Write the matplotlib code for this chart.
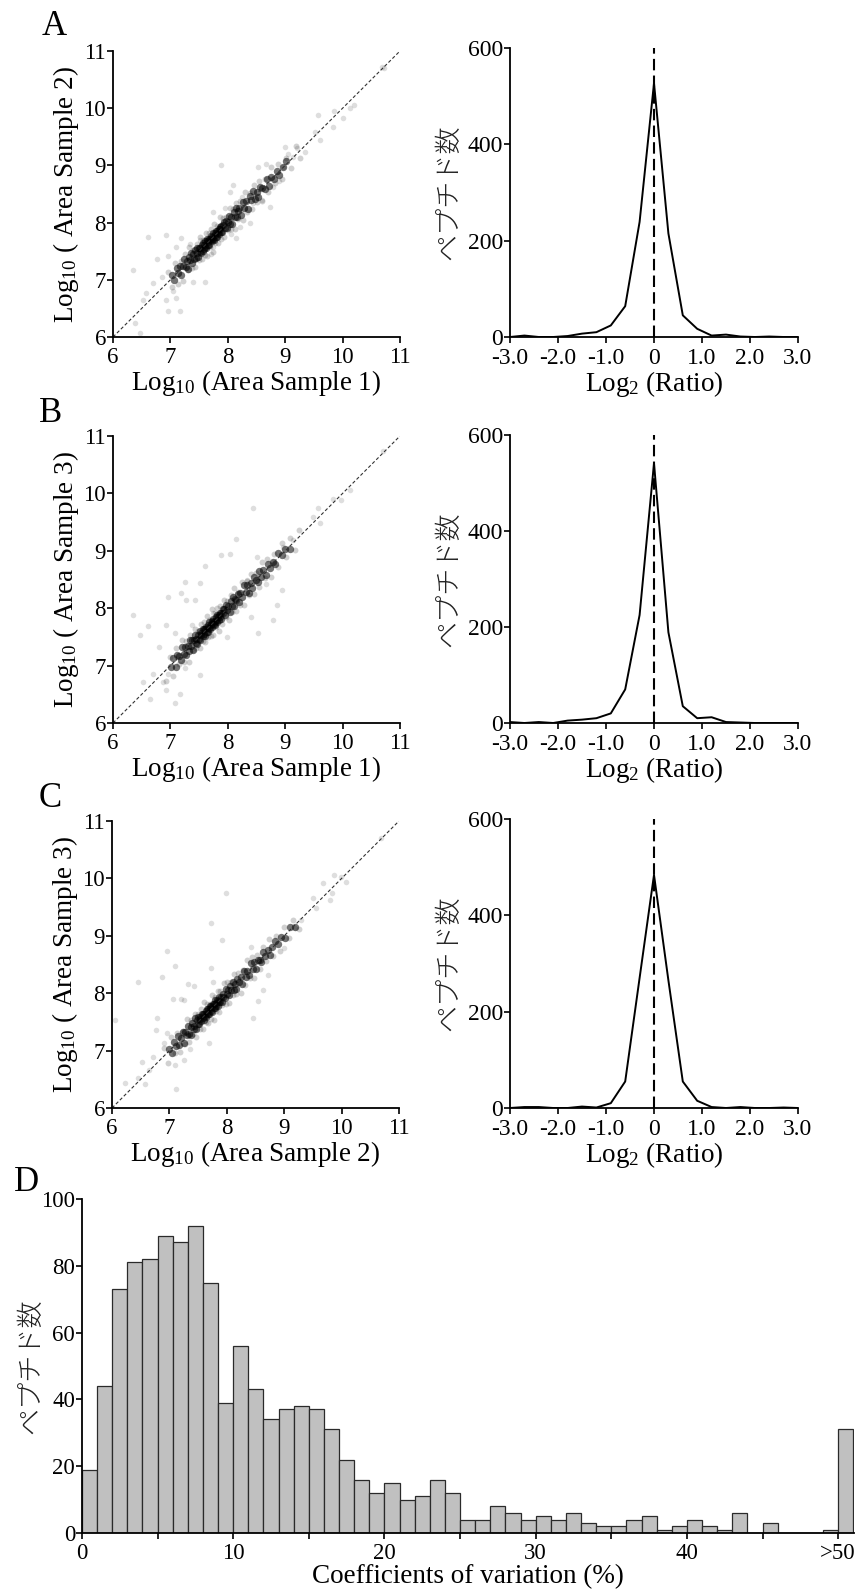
import matplotlib
matplotlib.use("Agg")
import matplotlib.pyplot as plt
import numpy as np

plt.rcParams['font.family'] = ['Liberation Serif', 'Noto Sans CJK JP']
plt.rcParams['mathtext.fontset'] = 'custom'
plt.rcParams['mathtext.rm'] = 'Liberation Serif'
plt.rcParams['mathtext.it'] = 'Liberation Serif:italic'
plt.rcParams['axes.linewidth'] = 1.3

# ---- scatter data: log10 peak areas ----
# dense centre of each cloud
a_core_x = [7.03, 7.07, 7.11, 7.14, 7.16, 7.19, 7.22, 7.24, 7.27, 7.29, 7.31, 7.33, 7.35, 7.36, 7.38,
            7.40, 7.41, 7.43, 7.44, 7.46, 7.47, 7.48, 7.50, 7.51, 7.52, 7.53, 7.55, 7.56, 7.57, 7.58,
            7.59, 7.60, 7.61, 7.62, 7.63, 7.64, 7.65, 7.66, 7.67, 7.68, 7.69, 7.70, 7.71, 7.72, 7.73,
            7.74, 7.75, 7.76, 7.77, 7.78, 7.79, 7.80, 7.81, 7.82, 7.83, 7.84, 7.85, 7.86, 7.87, 7.88,
            7.89, 7.90, 7.92, 7.93, 7.95, 7.96, 7.98, 8.00, 8.02, 8.04, 8.06, 8.08, 8.10, 8.12, 8.14,
            8.16, 8.18, 8.20, 8.23, 8.26, 8.29, 8.32, 8.35, 8.38, 8.41, 8.44, 8.47, 8.50, 8.53, 8.56,
            8.60, 8.64, 8.68, 8.72, 8.76, 8.80, 8.85, 8.90, 8.96, 9.02]
a_core_y = [7.08, 7.00, 7.21, 7.12, 7.24, 7.09, 7.25, 7.36, 7.22, 7.33, 7.19, 7.40, 7.34, 7.46, 7.30,
            7.45, 7.37, 7.52, 7.38, 7.47, 7.55, 7.39, 7.56, 7.49, 7.55, 7.46, 7.60, 7.51, 7.65, 7.54,
            7.61, 7.57, 7.67, 7.56, 7.67, 7.71, 7.61, 7.66, 7.72, 7.61, 7.72, 7.69, 7.77, 7.67, 7.75,
            7.71, 7.82, 7.70, 7.81, 7.79, 7.75, 7.86, 7.74, 7.85, 7.81, 7.89, 7.80, 7.93, 7.88, 7.84,
            7.94, 7.83, 7.95, 8.01, 7.91, 8.02, 7.90, 8.01, 8.11, 7.98, 8.10, 7.97, 8.18, 8.09, 8.26,
            8.09, 8.20, 8.26, 8.14, 8.36, 8.25, 8.37, 8.23, 8.46, 8.39, 8.55, 8.41, 8.53, 8.44, 8.63,
            8.60, 8.59, 8.77, 8.64, 8.80, 8.77, 8.91, 8.83, 8.98, 9.07]
# looser band around the centre
a_halo_x = [6.95, 7.02, 7.08, 7.13, 7.18, 7.22, 7.26, 7.30, 7.33, 7.37, 7.40, 7.43, 7.46, 7.49, 7.52,
            7.55, 7.57, 7.60, 7.62, 7.64, 7.67, 7.69, 7.71, 7.74, 7.76, 7.78, 7.81, 7.83, 7.86, 7.88,
            7.91, 7.94, 7.97, 8.00, 8.03, 8.06, 8.09, 8.12, 8.15, 8.18, 8.22, 8.26, 8.30, 8.34, 8.38,
            8.42, 8.46, 8.50, 8.55, 8.60, 8.65, 8.70, 8.76, 8.82, 8.88, 8.95, 9.02, 9.10, 9.18, 9.25]
a_halo_y = [7.13, 6.87, 7.30, 6.93, 7.32, 6.98, 7.45, 7.17, 7.58, 7.20, 7.52, 7.22, 7.62, 7.35, 7.75,
            7.36, 7.70, 7.44, 7.82, 7.42, 7.82, 7.57, 7.89, 7.49, 7.97, 7.64, 7.94, 7.65, 8.10, 7.72,
            8.08, 7.74, 8.09, 7.87, 8.25, 7.88, 8.24, 7.89, 8.34, 8.06, 8.38, 8.05, 8.54, 8.19, 8.51,
            8.23, 8.66, 8.36, 8.72, 8.38, 8.77, 8.53, 8.97, 8.69, 9.03, 8.77, 9.13, 8.96, 9.34, 9.13]
# scattered single peptides
a_out_x = [10.68, 10.72, 10.13, 10.00, 9.84, 9.58, 9.60, 9.52, 9.34, 8.99, 7.89, 8.53, 8.67, 8.90, 8.79,
           8.03, 8.38, 7.74, 6.61, 6.93, 6.35, 6.76, 6.96, 7.19, 7.10, 7.60, 6.96, 7.16, 6.93, 7.10,
           6.70, 6.52, 6.38, 6.47, 8.15, 8.30, 7.40, 7.28, 8.09, 8.73, 8.44, 7.74, 7.51, 8.21, 8.50,
           9.14, 8.97, 6.58, 9.20, 9.85, 10.20, 9.05, 8.60, 8.25, 7.95, 7.35, 7.70, 8.05, 6.85, 7.05]
a_out_y = [10.72, 10.70, 10.00, 9.82, 9.67, 9.88, 9.44, 9.59, 9.24, 9.33, 9.00, 8.98, 9.03, 8.72, 8.63,
           8.54, 7.99, 8.19, 7.74, 7.78, 7.17, 7.36, 7.41, 7.73, 7.58, 6.97, 6.45, 6.45, 6.65, 6.68,
           6.94, 6.65, 6.24, 6.07, 7.73, 8.25, 6.97, 7.23, 8.66, 8.28, 8.34, 7.58, 7.70, 7.93, 8.45,
           9.15, 8.98, 6.77, 9.30, 9.95, 10.05, 9.20, 8.40, 8.45, 8.25, 7.62, 7.45, 7.80, 7.05, 6.80]

b_core_x = [7.01, 7.05, 7.09, 7.12, 7.15, 7.18, 7.21, 7.23, 7.26, 7.28, 7.30, 7.32, 7.34, 7.36, 7.37,
            7.39, 7.41, 7.42, 7.44, 7.45, 7.47, 7.48, 7.49, 7.51, 7.52, 7.53, 7.54, 7.56, 7.57, 7.58,
            7.59, 7.60, 7.61, 7.62, 7.63, 7.64, 7.65, 7.66, 7.67, 7.68, 7.69, 7.70, 7.71, 7.72, 7.73,
            7.74, 7.75, 7.76, 7.77, 7.78, 7.79, 7.80, 7.81, 7.82, 7.83, 7.84, 7.85, 7.86, 7.87, 7.88,
            7.89, 7.91, 7.92, 7.94, 7.95, 7.97, 7.99, 8.01, 8.03, 8.05, 8.07, 8.09, 8.11, 8.13, 8.15,
            8.17, 8.19, 8.22, 8.25, 8.28, 8.31, 8.34, 8.37, 8.40, 8.43, 8.46, 8.49, 8.52, 8.55, 8.58,
            8.62, 8.66, 8.70, 8.74, 8.78, 8.83, 8.88, 8.94, 9.00, 9.08]
b_core_y = [6.97, 7.14, 6.98, 7.18, 7.16, 7.10, 7.33, 7.20, 7.33, 7.18, 7.34, 7.26, 7.44, 7.35, 7.45,
            7.27, 7.44, 7.53, 7.39, 7.47, 7.38, 7.54, 7.47, 7.60, 7.45, 7.57, 7.54, 7.51, 7.64, 7.55,
            7.64, 7.52, 7.63, 7.68, 7.59, 7.65, 7.58, 7.71, 7.65, 7.76, 7.63, 7.73, 7.70, 7.78, 7.68,
            7.76, 7.82, 7.72, 7.77, 7.71, 7.84, 7.77, 7.89, 7.76, 7.84, 7.88, 7.80, 7.92, 7.85, 7.91,
            7.81, 7.98, 7.91, 7.99, 7.89, 8.06, 7.96, 8.03, 7.93, 8.12, 8.03, 8.20, 8.04, 8.16, 8.14,
            8.25, 8.10, 8.27, 8.20, 8.40, 8.29, 8.40, 8.26, 8.44, 8.36, 8.55, 8.49, 8.46, 8.65, 8.55,
            8.67, 8.57, 8.77, 8.70, 8.80, 8.77, 8.96, 8.92, 9.04, 9.03]
b_halo_x = [6.92, 6.99, 7.05, 7.10, 7.15, 7.20, 7.24, 7.28, 7.32, 7.35, 7.39, 7.42, 7.45, 7.48, 7.51,
            7.54, 7.56, 7.59, 7.61, 7.63, 7.66, 7.68, 7.70, 7.73, 7.75, 7.77, 7.80, 7.82, 7.85, 7.87,
            7.90, 7.93, 7.96, 7.99, 8.02, 8.05, 8.08, 8.11, 8.14, 8.17, 8.21, 8.25, 8.29, 8.33, 8.37,
            8.41, 8.45, 8.49, 8.54, 8.59, 8.64, 8.69, 8.75, 8.81, 8.87, 8.94, 9.01, 9.09, 9.17, 9.24]
b_halo_y = [6.73, 7.15, 6.82, 7.30, 7.02, 7.44, 7.07, 7.42, 7.07, 7.53, 7.27, 7.64, 7.30, 7.61, 7.30,
            7.73, 7.42, 7.76, 7.41, 7.86, 7.50, 7.80, 7.52, 7.98, 7.53, 7.92, 7.67, 8.01, 7.61, 8.03,
            7.73, 8.14, 7.84, 8.13, 7.80, 8.23, 7.93, 8.35, 7.95, 8.29, 8.05, 8.45, 8.06, 8.48, 8.23,
            8.59, 8.24, 8.62, 8.37, 8.81, 8.52, 8.85, 8.55, 8.95, 8.72, 9.13, 8.90, 9.22, 9.01, 9.36]
b_out_x = [10.71, 10.13, 9.98, 9.84, 9.58, 9.60, 9.49, 8.44, 8.15, 7.89, 8.03, 7.60, 7.25, 7.51, 7.19,
           6.96, 6.35, 6.61, 6.47, 7.42, 7.28, 6.81, 6.93, 7.08, 7.37, 8.50, 8.79, 8.94, 8.85, 8.41,
           8.53, 7.98, 7.74, 7.51, 7.25, 7.16, 7.08, 6.93, 6.64, 6.52, 6.70, 6.87, 6.96, 8.79, 8.67,
           8.33, 8.21, 9.14, 8.97]
b_out_y = [10.73, 10.06, 9.88, 9.91, 9.74, 9.48, 9.59, 9.74, 9.20, 8.92, 8.94, 8.73, 8.46, 8.44, 8.26,
           8.20, 7.88, 7.69, 7.53, 8.14, 8.14, 7.33, 7.70, 7.56, 7.70, 8.90, 8.81, 8.31, 8.05, 7.85,
           7.56, 7.50, 7.91, 6.83, 6.95, 6.51, 6.34, 6.57, 6.42, 6.72, 6.86, 6.72, 6.86, 7.79, 8.43,
           8.49, 8.26, 9.19, 9.07]

c_core_x = [7.00, 7.04, 7.08, 7.12, 7.15, 7.17, 7.20, 7.23, 7.25, 7.28, 7.30, 7.33, 7.35, 7.37, 7.38,
            7.40, 7.42, 7.43, 7.45, 7.46, 7.48, 7.49, 7.50, 7.52, 7.53, 7.54, 7.55, 7.56, 7.58, 7.59,
            7.60, 7.61, 7.62, 7.63, 7.64, 7.65, 7.66, 7.67, 7.68, 7.69, 7.70, 7.71, 7.72, 7.73, 7.74,
            7.75, 7.76, 7.77, 7.78, 7.79, 7.80, 7.81, 7.82, 7.83, 7.84, 7.85, 7.86, 7.87, 7.88, 7.90,
            7.91, 7.93, 7.94, 7.96, 7.98, 8.00, 8.02, 8.04, 8.06, 8.08, 8.10, 8.12, 8.14, 8.16, 8.18,
            8.21, 8.24, 8.27, 8.30, 8.33, 8.36, 8.39, 8.42, 8.45, 8.48, 8.51, 8.54, 8.57, 8.60, 8.63,
            8.67, 8.71, 8.75, 8.79, 8.84, 8.89, 8.95, 9.02, 9.10, 9.18]
c_core_y = [7.03, 6.95, 7.15, 7.08, 7.26, 7.10, 7.22, 7.32, 7.13, 7.33, 7.28, 7.43, 7.29, 7.41, 7.28,
            7.48, 7.43, 7.38, 7.57, 7.38, 7.54, 7.46, 7.59, 7.46, 7.55, 7.59, 7.51, 7.63, 7.57, 7.63,
            7.53, 7.64, 7.60, 7.69, 7.59, 7.73, 7.66, 7.63, 7.73, 7.63, 7.72, 7.78, 7.69, 7.77, 7.67,
            7.76, 7.82, 7.75, 7.81, 7.74, 7.88, 7.77, 7.83, 7.88, 7.78, 7.87, 7.85, 7.94, 7.85, 7.94,
            7.84, 7.99, 7.94, 7.91, 8.07, 7.98, 8.06, 7.96, 8.12, 8.05, 8.20, 8.06, 8.16, 8.07, 8.25,
            8.20, 8.29, 8.16, 8.38, 8.29, 8.39, 8.32, 8.52, 8.43, 8.54, 8.42, 8.58, 8.57, 8.54, 8.71,
            8.64, 8.76, 8.67, 8.81, 8.91, 8.85, 8.98, 8.96, 9.15, 9.16]
c_halo_x = [6.90, 6.97, 7.03, 7.09, 7.14, 7.19, 7.23, 7.27, 7.31, 7.34, 7.38, 7.41, 7.44, 7.47, 7.50,
            7.53, 7.55, 7.58, 7.60, 7.63, 7.65, 7.67, 7.70, 7.72, 7.74, 7.77, 7.79, 7.82, 7.84, 7.87,
            7.89, 7.92, 7.95, 7.98, 8.01, 8.04, 8.07, 8.10, 8.13, 8.16, 8.20, 8.24, 8.28, 8.32, 8.36,
            8.40, 8.44, 8.48, 8.53, 8.58, 8.63, 8.68, 8.74, 8.80, 8.86, 8.93, 9.00, 9.08, 9.16, 9.26]
c_halo_y = [7.04, 6.79, 7.24, 6.96, 7.31, 6.97, 7.35, 7.11, 7.55, 7.15, 7.53, 7.29, 7.64, 7.24, 7.63,
            7.38, 7.73, 7.37, 7.85, 7.49, 7.81, 7.48, 7.82, 7.55, 7.96, 7.53, 7.93, 7.69, 8.03, 7.67,
            8.04, 7.80, 8.18, 7.82, 8.19, 7.83, 8.20, 7.96, 8.33, 7.98, 8.36, 8.00, 8.40, 8.15, 8.57,
            8.27, 8.63, 8.26, 8.67, 8.43, 8.80, 8.56, 8.94, 8.64, 8.99, 8.74, 9.15, 8.97, 9.28, 9.12]
c_out_x = [10.68, 9.99, 9.87, 10.08, 9.67, 9.84, 9.79, 9.55, 9.50, 7.98, 7.72, 7.92, 6.95, 7.09, 6.87,
           6.45, 7.32, 7.43, 7.73, 7.76, 7.07, 7.21, 7.26, 6.78, 6.76, 6.06, 6.95, 6.90, 8.46, 8.54,
           8.63, 8.71, 8.43, 9.00, 7.69, 7.36, 7.10, 7.26, 7.11, 6.58, 6.23, 6.45, 6.64, 6.52, 6.72,
           9.18, 9.29]
c_out_y = [10.70, 10.03, 10.06, 9.94, 9.92, 9.74, 9.63, 9.48, 9.65, 9.75, 9.22, 8.93, 8.74, 8.47, 8.29,
           8.20, 8.16, 8.13, 8.44, 8.20, 7.90, 7.90, 7.88, 7.57, 7.36, 7.54, 7.31, 7.13, 7.57, 7.86,
           8.06, 8.32, 8.81, 8.78, 7.14, 7.02, 6.75, 6.84, 6.33, 6.41, 6.43, 6.52, 6.67, 6.81, 6.88,
           9.13, 9.28]

# ---- log2 ratio distributions ----
ratio_bins = [-3.0, -2.7, -2.4, -2.1, -1.8, -1.5, -1.2, -0.9, -0.6, -0.3, 0.0,
              0.3, 0.6, 0.9, 1.2, 1.5, 1.8, 2.1, 2.4, 2.7, 3.0]
count_a = [0, 3, 0, 0, 2, 7, 10, 24, 64, 239, 527, 215, 45, 17, 3, 5, 1, 0, 1, 0, 0]
count_b = [2, 0, 2, 0, 5, 7, 10, 20, 70, 225, 541, 189, 35, 10, 12, 2, 1, 0, 0, 0, 0]
count_c = [0, 2, 2, 0, 0, 3, 1, 10, 55, 270, 484, 265, 55, 15, 2, 0, 2, 0, 0, 1, 0]
ratio_ticks = [-3, -2, -1, 0, 1, 2, 3]
ratio_labels = ['-3.0', '-2.0', '-1.0', '0', '1.0', '2.0', '3.0']

# ---- CV histogram (1 % bins, last bin = >50 %) ----
cv_counts = [19, 44, 73, 81, 82, 89, 87, 92, 75, 39, 56, 43, 34, 37, 38, 37, 31, 22, 16, 12,
             15, 10, 11, 16, 12, 4, 4, 8, 6, 4, 5, 4, 6, 3, 2, 2, 4, 5, 1, 2,
             4, 2, 1, 6, 0, 3, 0, 0, 0, 1, 31]
cv_tick_labels = ['0', '', '10', '', '20', '', '30', '', '40', '', '>50']

JP = ['Noto Sans CJK JP']
TICK = 16.5
LABEL = 19.5

W, H = 859, 1591
fig = plt.figure(figsize=(W / 100, H / 100), dpi=100)


def box(l, t, r, b):
    return [l / W, 1 - b / H, (r - l) / W, (b - t) / H]


def style(ax, size=TICK):
    ax.spines['top'].set_visible(False)
    ax.spines['right'].set_visible(False)
    ax.tick_params(direction='out', length=4, width=1.2, labelsize=size, pad=1)
    ax.tick_params(axis='x', pad=3)


def scatter_panel(rect, cx, cy, hx, hy, ox, oy, xl, yl):
    ax = fig.add_axes(rect)
    ax.scatter(ox, oy, s=16, color='k', alpha=0.13, linewidths=0)
    ax.scatter(hx, hy, s=18, color='k', alpha=0.18, linewidths=0)
    ax.scatter(cx, cy, s=28, color='k', alpha=0.55, linewidths=0)
    ax.plot([6, 11], [6, 11], color='#333333', lw=0.8, dashes=(3, 2))
    ax.set_xlim(6, 11)
    ax.set_ylim(6, 11)
    ax.set_xticks(range(6, 12))
    ax.set_yticks(range(6, 12))
    style(ax)
    ax.set_xlabel(xl, fontsize=LABEL, labelpad=0)
    ax.set_ylabel(yl, fontsize=LABEL, labelpad=2)
    return ax


def ratio_panel(rect, counts):
    ax = fig.add_axes(rect)
    ax.plot(ratio_bins, counts, color='k', lw=1.4)
    ax.axvline(0, color='k', lw=1.5, dashes=(5.5, 2.5))
    ax.set_xlim(-3, 3)
    ax.set_ylim(0, 600)
    ax.set_xticks(ratio_ticks)
    ax.set_xticklabels(ratio_labels)
    ax.set_yticks([0, 200, 400, 600])
    style(ax, 17)
    ax.tick_params(axis='x', pad=4)
    ax.set_xlabel(r'Log$_{2}$ (Ratio)', fontsize=LABEL, labelpad=0)
    ax.set_ylabel('ペプチド数', fontsize=LABEL, family=JP, fontweight='light',
                  color='#222222', labelpad=4)
    return ax


lx1 = r'Log$_{10}$ (Area Sample 1)'
lx2 = r'Log$_{10}$ (Area Sample 2)'

scatter_panel(box(113, 51, 400, 337), a_core_x, a_core_y, a_halo_x, a_halo_y,
              a_out_x, a_out_y, lx1, r'Log$_{10}$ ( Area Sample 2)')
ratio_panel(box(510, 48, 798, 337), count_a)
scatter_panel(box(113, 436, 400, 723), b_core_x, b_core_y, b_halo_x, b_halo_y,
              b_out_x, b_out_y, lx1, r'Log$_{10}$ ( Area Sample 3)')
ratio_panel(box(510, 435, 798, 723), count_b)
scatter_panel(box(112, 821, 399, 1108), c_core_x, c_core_y, c_halo_x, c_halo_y,
              c_out_x, c_out_y, lx2, r'Log$_{10}$ ( Area Sample 3)')
ratio_panel(box(510, 819, 798, 1108), count_c)

# histogram D
axd = fig.add_axes(box(82, 1199, 854, 1533))
axd.bar(np.arange(len(cv_counts)), cv_counts, width=1.0, align='edge',
        color='#c0c0c0', edgecolor='#2a2a2a', linewidth=0.9)
axd.set_xlim(0, 51.05)
axd.set_ylim(0, 100)
axd.set_xticks(range(0, 51, 5))
axd.set_xticklabels(cv_tick_labels)
axd.set_yticks(range(0, 101, 20))
style(axd)
axd.set_xlabel('Coefficients of variation (%)', fontsize=LABEL, labelpad=0)
axd.set_ylabel('ペプチド数', fontsize=LABEL, family=JP, fontweight='light',
               color='#222222', labelpad=-2)

for letter, x, y in [('A', 42, 35), ('B', 39, 422), ('C', 39, 807), ('D', 14, 1191)]:
    fig.text(x / W, 1 - y / H, letter, fontsize=25, ha='left', va='baseline')

fig.savefig('out.png', dpi=100)
